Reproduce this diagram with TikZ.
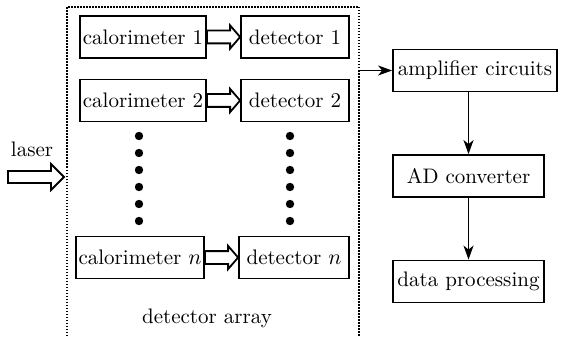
\documentclass[tikz,border=0pt]{standalone}
\usetikzlibrary{arrows.meta,positioning,calc}

\begin{document}
\begin{tikzpicture}[x=0.5pt,y=-0.5pt,font=\fontsize{10.5}{12}\selectfont,box/.style={draw,line width=0.9pt,minimum height=21pt,inner sep=1pt},
hollow/.style n args={3}{draw,line width=0.9pt,to path={let \p1=(\tikztostart),\p2=(\tikztotarget) in (\x1,\y1+#1) -- (\x2-#3,\y1+#1) -- (\x2-#3,\y1+#2) -- (\x2,\y1) -- (\x2-#3,\y1-#2) -- (\x2-#3,\y1-#1) -- (\x1,\y1-#1) -- cycle}},
a/.style={-{Stealth[length=7pt,width=5pt,inset=2pt]},line width=0.8pt}]
\useasboundingbox (0,0) rectangle (576,336);
\draw[line width=0.9pt,dash pattern=on 0.75pt off 0.75pt] (67,336) |- (359,7) -- (359,336);
\node[box,minimum width=63pt] (c1) at (143,37) {calorimeter 1};
\node[box,minimum width=54pt] (d1) at (295,37) {detector 1};
\node[box,minimum width=63pt] (c2) at (143,100.5) {calorimeter 2};
\node[box,minimum width=54pt] (d2) at (295,100.5) {detector 2};
\node[box,minimum width=64pt] (cn) at (140,257.5) {calorimeter $n$};
\node[box,minimum width=55pt] (dn) at (294,257.5) {detector $n$};
\foreach \i in {0,...,5} {\fill (139,136+17*\i) circle (2.1pt); \fill (290,136+17*\i) circle (2.1pt);}
\node (arr) at (207,318) {detector array};
\node[box,minimum width=82pt] (amp) at (475,70.5) {amplifier circuits};
\node[box,minimum width=75.5pt] (ad) at (468.5,176) {AD converter};
\node[box,minimum width=75.5pt] (dp) at (468.5,281.5) {data processing};
\node (laser) at (32,149) {laser};
\coordinate (lin) at (8,177); \coordinate (lout) at (64,177); \coordinate (out) at (359,70.5);
\draw[hollow={3.2pt}{5.8pt}{5pt}] (c1.east) to (d1.west);
\draw[hollow={3.2pt}{5.8pt}{5pt}] (c2.east) to (d2.west);
\draw[hollow={3.2pt}{5.8pt}{5pt}] (cn.east) to (dn.west);
\draw[hollow={3pt}{6.5pt}{6.5pt}] (lin) to (lout);
\draw[a] (out)--(amp);
\draw[a] (amp.south -| ad)--(ad); \draw[a] (ad)--(dp);
\end{tikzpicture}
\end{document}
